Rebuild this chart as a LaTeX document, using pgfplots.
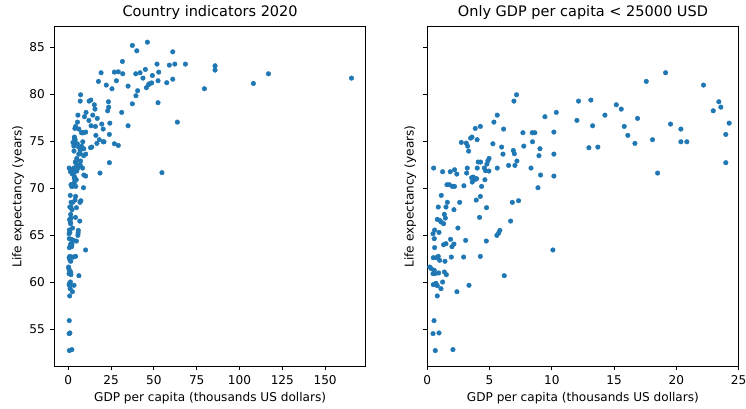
\documentclass[border=0pt]{standalone}
\usepackage{fontspec}
\setmainfont{DejaVu Sans}
\usepackage{pgfplots}
\usepackage{pgfplotstable}
\pgfplotsset{compat=1.18}

\definecolor{mplblue}{HTML}{1F77B4}

% GDP per capita (thousands USD), life expectancy (years)
\pgfplotstableread{
gdp life
19.14 82.28
17.59 81.36
22.19 80.97
7.17 79.94
6.96 79.27
12.15 79.27
13.14 79.38
23.42 79.20
22.97 78.24
23.58 78.63
15.18 78.88
15.58 78.42
10.36 78.07
5.62 77.78
9.45 77.61
12.02 77.22
14.27 77.78
16.89 77.43
5.35 77.04
3.85 76.37
4.26 76.58
6.13 76.30
13.28 76.65
15.82 76.58
19.54 76.83
20.37 76.30
24.25 76.93
7.68 75.91
8.43 75.91
8.64 75.91
10.17 75.98
16.11 75.63
18.09 75.17
23.98 75.73
3.48 75.34
3.59 75.45
4.00 75.17
2.73 74.88
3.13 74.81
3.24 74.49
3.32 73.96
5.27 74.74
5.97 74.39
7.75 74.49
8.45 74.95
9.05 74.21
12.98 74.32
13.70 74.39
16.68 74.78
20.37 74.95
20.85 74.95
6.91 74.03
6.99 73.68
6.08 73.64
4.96 73.18
4.87 72.94
8.97 73.47
10.17 73.64
7.20 72.91
7.04 72.44
6.53 72.44
4.09 72.80
4.28 72.80
4.01 72.16
4.79 72.58
4.58 72.16
4.95 71.84
4.68 71.88
5.62 72.16
8.33 72.16
9.10 71.42
10.17 71.31
18.50 71.63
23.98 72.73
0.51 72.16
1.23 71.77
1.84 71.77
2.19 71.98
2.37 71.52
3.16 71.63
3.21 72.16
3.56 71.13
3.69 71.20
3.85 70.96
3.61 70.67
3.96 71.03
4.63 70.92
4.36 70.21
1.58 70.39
1.77 70.39
2.01 70.21
2.19 70.21
2.94 70.28
8.89 70.07
1.12 69.26
1.61 68.52
2.60 68.52
1.50 68.02
2.14 67.74
0.88 68.02
3.93 68.76
4.26 69.15
4.76 67.95
7.33 68.69
6.83 68.52
1.37 67.24
1.45 66.85
0.80 66.71
0.99 66.61
1.12 66.43
1.31 66.25
4.20 66.92
6.69 66.53
2.46 65.79
0.59 65.58
0.46 65.19
0.94 65.33
0.56 64.66
5.59 65.01
5.73 65.26
5.83 65.54
1.87 64.59
1.50 64.13
1.31 64.02
3.08 64.48
4.74 64.41
0.59 63.71
2.14 64.09
1.98 63.81
10.09 63.46
0.48 62.64
0.88 62.78
0.70 62.64
0.99 62.36
1.93 62.71
1.42 62.26
2.92 62.71
4.26 62.78
0.19 61.65
0.32 61.48
0.56 61.30
0.46 60.95
0.91 61.02
1.37 61.12
1.53 60.84
0.62 60.95
6.18 60.73
0.48 59.78
0.70 59.92
0.80 59.67
1.23 60.06
1.10 59.35
3.35 59.71
2.38 59.03
0.80 58.58
0.54 55.96
0.46 54.58
0.94 54.65
0.64 52.78
2.06 52.88
37.4 85.18
46.2 85.53
40.0 84.61
61.0 84.50
31.6 83.48
51.8 83.20
59.0 83.09
62.2 83.20
68.4 83.20
85.7 83.02
85.7 82.56
26.9 82.35
29.2 82.38
31.8 82.17
39.4 82.17
41.9 82.28
45.0 82.63
52.8 82.35
49.1 81.99
43.6 81.71
28.1 81.43
25.5 80.58
34.9 80.86
47.3 81.10
48.7 81.20
45.6 80.69
46.8 81.00
52.4 81.43
57.5 81.22
61.0 81.60
79.5 80.58
40.5 80.37
39.5 79.84
37.4 78.98
52.4 79.10
31.2 78.07
34.9 76.65
63.7 77.04
54.7 71.67
26.9 74.74
29.2 74.56
108.1 81.14
116.9 82.17
165.4 81.71
}\countries

\pgfplotsset{
  panel/.style={
    width=311.2pt, height=339.3pt, scale only axis,
    ymin=51.14, ymax=87.17,
    ytick={55,60,...,85},
    tick align=outside, tick pos=left,
    major tick length=4.2pt,
    every tick/.style={black, line width=1pt},
    axis line style={line width=1pt},
    /pgf/number format/assume math mode=true,
    ticklabel style={font=\fontsize{12.1}{14.5}\selectfont, inner sep=0pt},
    xticklabel style={yshift=-4.8pt},
    yticklabel style={xshift=-5.3pt},
    % the default title style already shifts up by 6pt
    title style={at={(0.5,1)}, anchor=south, inner sep=0pt, yshift=1.3pt,
      font=\fontsize{14.5}{17}\selectfont},
    xlabel style={at={(axis description cs:0.5,0)}, anchor=north,
      inner sep=0pt, yshift=-26.5pt, font=\fontsize{12.1}{14.5}\selectfont},
    ylabel={Life expectancy (years)},
  },
  dots/.style={only marks, mark=*, mark size=2.3pt, color=mplblue},
}

\begin{document}
\begin{tikzpicture}
\useasboundingbox (0,0) rectangle (746pt,408pt);

\begin{axis}[panel,
  at={(54.5pt,42pt)}, anchor=south west,
  xmin=-8.07, xmax=173.7,
  xtick={0,25,...,150},
  title={Country indicators 2020},
  xlabel={GDP per capita (thousands US dollars)},
  ylabel style={at={(axis description cs:-0.098,0.5)}, anchor=south,
    inner sep=0pt, font=\fontsize{12.1}{14.5}\selectfont},
]
\addplot[dots] table[x=gdp, y=life] {\countries};
\end{axis}

\begin{axis}[panel,
  at={(427.3pt,42pt)}, anchor=south west,
  xmin=0, xmax=25,
  xtick={0,5,...,25},
  yticklabels={},
  title={Only GDP per capita < 25000 USD},
  xlabel={GDP per capita (thousands US dollars)},
  ylabel style={at={(axis description cs:-0.0353,0.5)}, anchor=south,
    inner sep=0pt, font=\fontsize{12.1}{14.5}\selectfont},
]
\addplot[dots, restrict x to domain=-1:25] table[x=gdp, y=life] {\countries};
\end{axis}
\end{tikzpicture}
\end{document}
